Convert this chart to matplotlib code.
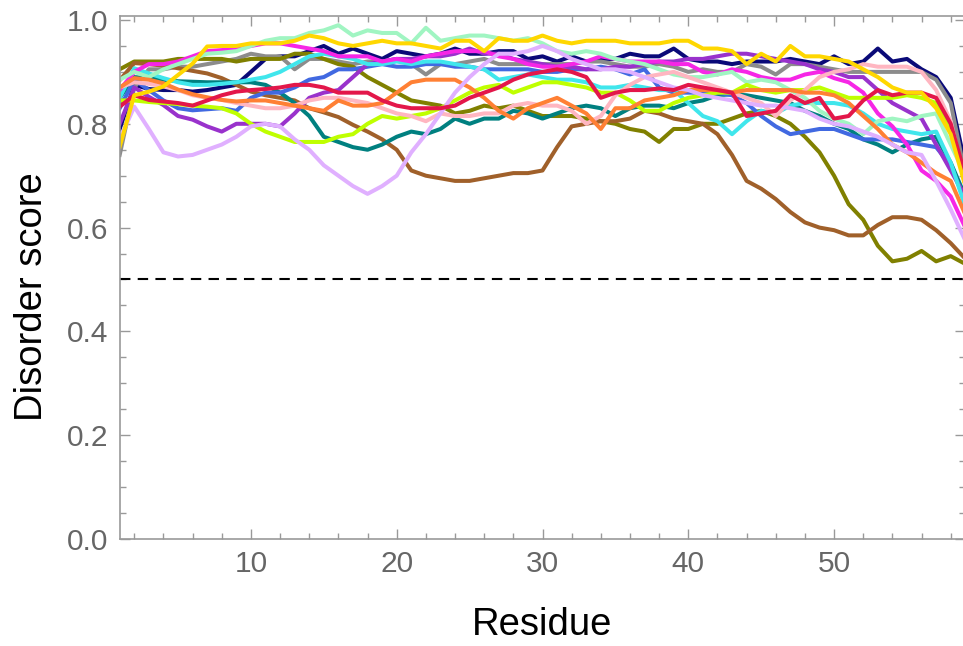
import matplotlib
matplotlib.use("Agg")
import matplotlib.pyplot as plt
from matplotlib.ticker import MultipleLocator

plt.rcParams['font.family'] = ['Liberation Sans', 'DejaVu Sans']

residues = list(range(1, 60))

navy = [0.79,0.875,0.867,0.865,0.865,0.862,0.865,0.87,0.875,0.90,0.925,0.93,0.93,0.94,0.95,0.935,0.945,0.935,0.925,0.94,
        0.935,0.93,0.935,0.945,0.935,0.935,0.94,0.94,0.925,0.93,0.92,0.93,0.92,0.925,0.925,0.935,0.93,0.93,0.945,0.925,
        0.92,0.92,0.915,0.92,0.92,0.92,0.925,0.92,0.915,0.93,0.915,0.92,0.945,0.92,0.925,0.905,0.89,0.85,0.72]
gray = [0.74,0.87,0.905,0.905,0.91,0.91,0.915,0.92,0.925,0.935,0.93,0.93,0.905,0.925,0.925,0.92,0.915,0.92,0.92,0.925,
        0.915,0.895,0.915,0.915,0.92,0.925,0.915,0.915,0.915,0.915,0.915,0.915,0.92,0.92,0.915,0.91,0.91,0.915,0.91,0.90,
        0.905,0.90,0.90,0.915,0.91,0.895,0.915,0.915,0.91,0.905,0.90,0.90,0.90,0.90,0.90,0.90,0.885,0.84,0.70]
olive = [0.905,0.92,0.92,0.92,0.925,0.925,0.925,0.925,0.92,0.925,0.925,0.925,0.935,0.935,0.925,0.915,0.91,0.89,0.875,0.86,
         0.845,0.84,0.835,0.82,0.825,0.835,0.83,0.835,0.825,0.815,0.815,0.815,0.81,0.805,0.80,0.79,0.785,0.765,0.79,0.79,
         0.80,0.80,0.81,0.82,0.825,0.815,0.80,0.775,0.745,0.70,0.645,0.615,0.565,0.535,0.54,0.555,0.535,0.545,0.53]
brown = [0.884,0.917,0.915,0.912,0.907,0.902,0.897,0.888,0.875,0.862,0.855,0.85,0.845,0.83,0.822,0.813,0.798,0.785,0.77,0.75,
         0.71,0.70,0.695,0.69,0.69,0.695,0.70,0.705,0.705,0.71,0.755,0.795,0.80,0.805,0.805,0.81,0.825,0.82,0.81,0.805,
         0.80,0.78,0.74,0.69,0.675,0.655,0.63,0.61,0.60,0.595,0.585,0.585,0.605,0.62,0.62,0.615,0.595,0.57,0.54]
teal = [0.85,0.89,0.888,0.885,0.882,0.881,0.88,0.88,0.88,0.88,0.875,0.86,0.84,0.815,0.775,0.765,0.755,0.75,0.76,0.775,
        0.785,0.78,0.79,0.81,0.80,0.81,0.81,0.825,0.82,0.81,0.82,0.83,0.835,0.83,0.815,0.83,0.835,0.835,0.83,0.84,
        0.845,0.855,0.857,0.855,0.85,0.845,0.84,0.825,0.815,0.80,0.79,0.77,0.76,0.745,0.76,0.77,0.775,0.725,0.66]
blue = [0.83,0.885,0.865,0.845,0.83,0.826,0.828,0.83,0.825,0.85,0.86,0.86,0.87,0.885,0.89,0.905,0.905,0.91,0.915,0.91,
        0.91,0.915,0.915,0.91,0.91,0.905,0.905,0.905,0.905,0.90,0.90,0.905,0.905,0.91,0.905,0.895,0.905,0.87,0.86,0.86,
        0.86,0.86,0.855,0.84,0.815,0.795,0.78,0.785,0.79,0.79,0.78,0.77,0.77,0.77,0.765,0.76,0.755,0.72,0.65]
purple = [0.80,0.87,0.852,0.836,0.815,0.808,0.795,0.785,0.80,0.80,0.80,0.795,0.82,0.85,0.86,0.865,0.89,0.915,0.92,0.925,
          0.925,0.93,0.93,0.935,0.945,0.935,0.935,0.925,0.92,0.915,0.91,0.91,0.905,0.905,0.91,0.91,0.915,0.92,0.92,0.925,
          0.925,0.93,0.935,0.935,0.93,0.925,0.92,0.915,0.905,0.90,0.89,0.89,0.865,0.84,0.825,0.81,0.76,0.71,0.66]
cyan = [0.85,0.907,0.897,0.888,0.88,0.875,0.875,0.877,0.88,0.885,0.89,0.90,0.915,0.93,0.935,0.93,0.925,0.915,0.915,0.92,
        0.915,0.92,0.92,0.915,0.91,0.905,0.885,0.89,0.895,0.89,0.885,0.885,0.88,0.87,0.87,0.875,0.87,0.865,0.865,0.84,
        0.815,0.805,0.78,0.805,0.825,0.82,0.835,0.84,0.84,0.84,0.835,0.82,0.80,0.79,0.785,0.78,0.785,0.725,0.64]
magenta = [0.865,0.90,0.915,0.915,0.92,0.93,0.94,0.942,0.945,0.95,0.955,0.955,0.95,0.945,0.94,0.93,0.93,0.93,0.92,0.925,
           0.92,0.93,0.935,0.94,0.94,0.94,0.93,0.925,0.915,0.91,0.91,0.915,0.92,0.93,0.925,0.92,0.92,0.92,0.915,0.915,
           0.90,0.895,0.905,0.90,0.89,0.885,0.885,0.895,0.90,0.888,0.88,0.86,0.82,0.795,0.76,0.71,0.69,0.66,0.60]
gold = [0.756,0.855,0.862,0.872,0.894,0.916,0.949,0.95,0.95,0.955,0.955,0.955,0.96,0.97,0.965,0.955,0.95,0.955,0.96,0.955,
        0.955,0.95,0.945,0.96,0.96,0.94,0.965,0.96,0.96,0.97,0.96,0.955,0.96,0.96,0.96,0.955,0.955,0.955,0.96,0.96,
        0.945,0.945,0.94,0.915,0.935,0.92,0.95,0.93,0.93,0.925,0.92,0.905,0.89,0.87,0.86,0.86,0.83,0.78,0.68]
mint = [0.885,0.90,0.89,0.905,0.915,0.925,0.935,0.937,0.94,0.95,0.96,0.965,0.965,0.975,0.98,0.99,0.97,0.98,0.975,0.975,
        0.955,0.985,0.96,0.965,0.97,0.97,0.965,0.96,0.965,0.955,0.94,0.935,0.94,0.935,0.925,0.92,0.915,0.905,0.895,0.89,
        0.89,0.895,0.90,0.88,0.885,0.88,0.865,0.85,0.825,0.81,0.80,0.78,0.805,0.81,0.805,0.815,0.82,0.76,0.70]
lime = [0.845,0.845,0.842,0.84,0.838,0.835,0.833,0.83,0.82,0.80,0.785,0.775,0.765,0.765,0.765,0.775,0.78,0.80,0.815,0.81,
        0.815,0.82,0.83,0.845,0.86,0.87,0.875,0.86,0.87,0.88,0.88,0.875,0.87,0.86,0.86,0.845,0.825,0.825,0.84,0.85,
        0.855,0.86,0.86,0.875,0.865,0.86,0.865,0.865,0.87,0.86,0.85,0.85,0.85,0.85,0.855,0.85,0.84,0.79,0.70]
pink = [0.87,0.88,0.877,0.872,0.865,0.855,0.85,0.846,0.84,0.835,0.83,0.83,0.835,0.845,0.85,0.85,0.845,0.84,0.83,0.82,
        0.815,0.805,0.82,0.815,0.815,0.82,0.82,0.835,0.84,0.835,0.835,0.825,0.80,0.815,0.855,0.875,0.89,0.895,0.90,0.89,
        0.88,0.87,0.86,0.85,0.84,0.815,0.845,0.865,0.89,0.90,0.905,0.915,0.91,0.91,0.91,0.90,0.865,0.805,0.68]
orange = [0.87,0.888,0.885,0.878,0.866,0.857,0.851,0.846,0.843,0.845,0.845,0.84,0.835,0.83,0.825,0.845,0.835,0.835,0.84,0.86,
          0.88,0.885,0.885,0.885,0.87,0.85,0.825,0.81,0.83,0.84,0.85,0.835,0.82,0.79,0.83,0.83,0.845,0.85,0.855,0.865,
          0.865,0.865,0.86,0.865,0.865,0.865,0.865,0.86,0.86,0.855,0.84,0.815,0.79,0.76,0.745,0.725,0.705,0.69,0.625]
crimson = [0.833,0.855,0.846,0.843,0.84,0.835,0.845,0.855,0.862,0.865,0.867,0.87,0.875,0.875,0.87,0.86,0.86,0.86,0.845,0.835,
           0.83,0.83,0.83,0.835,0.85,0.86,0.87,0.885,0.895,0.90,0.905,0.90,0.89,0.85,0.86,0.865,0.865,0.868,0.865,0.875,
           0.87,0.865,0.86,0.815,0.82,0.825,0.855,0.84,0.85,0.81,0.815,0.845,0.865,0.855,0.86,0.86,0.85,0.80,0.70]
lavender = [0.77,0.833,0.79,0.745,0.737,0.74,0.75,0.76,0.775,0.795,0.80,0.795,0.77,0.75,0.72,0.70,0.68,0.665,0.68,0.70,
            0.745,0.78,0.82,0.86,0.89,0.915,0.935,0.935,0.94,0.95,0.94,0.925,0.915,0.905,0.905,0.90,0.89,0.88,0.87,0.865,
            0.855,0.85,0.845,0.84,0.835,0.835,0.83,0.825,0.81,0.80,0.795,0.785,0.775,0.76,0.745,0.74,0.69,0.635,0.575]

threshold = 0.5

series = [
    (navy, '#0a0a78'), (gray, '#8c8c8c'), (olive, '#808000'), (brown, '#a0602a'),
    (teal, '#008080'), (blue, '#4169e1'), (purple, '#9932cc'), (cyan, '#40e6ec'),
    (magenta, '#f626e6'), (mint, '#a0f5c2'), (lime, '#bfff00'), (pink, '#ffb6c1'),
    (orange, '#ff8034'), (lavender, '#e0b0ff'), (crimson, '#e3174a'), (gold, '#ffd700'),
]

fig = plt.figure(figsize=(9.63, 6.46), dpi=100)
ax = fig.add_axes([119.7/963, 1-539/646, 845.6/963, 523/646])

for vals, col in series:
    ax.plot(residues, vals, color=col, lw=2.9)

ax.axhline(threshold, color='black', lw=1.5, dashes=(5, 3.5))

ax.set_xlim(1, 59)
ax.set_ylim(0, 1.0077)
ax.xaxis.set_minor_locator(MultipleLocator(2))
ax.yaxis.set_minor_locator(MultipleLocator(0.05))
ax.set_yticks([0.0, 0.2, 0.4, 0.6, 0.8, 1.0])
ax.set_yticklabels(['0.0', '0.2', '0.4', '0.6', '0.8', '1.0'])
ax.set_xticks([10, 20, 30, 40, 50])

ax.tick_params(which='both', direction='in', top=True, right=True, color='#999999',
               labelcolor='#666666', labelsize=21.5, width=1.0)
ax.tick_params(which='major', length=7, pad=8)
ax.tick_params(which='minor', length=4)
for s in ax.spines.values():
    s.set_color('#999999')
    s.set_linewidth(1.2)

ax.set_xlabel('Residue', fontsize=27.5, labelpad=20.5)
ax.set_ylabel('Disorder score', fontsize=27.5, labelpad=12)
ax.yaxis.label.set_y(0.463)

fig.savefig('out.png', dpi=100)
